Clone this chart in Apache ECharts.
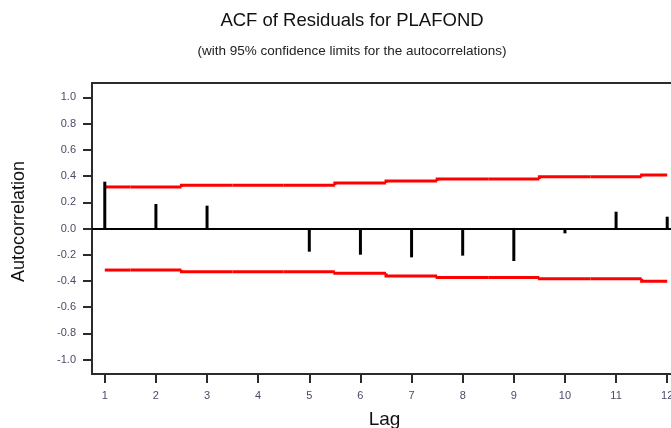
<!DOCTYPE html>
<html>
<head>
<meta charset="utf-8">
<script src="https://cdn.jsdelivr.net/npm/echarts@6/dist/echarts.min.js"></script>
<style>
html, body { margin: 0; padding: 0; background: #fff; }
#acf_chart { width: 671px; height: 428px; }
</style>
</head>
<body>
<div id="acf_chart"></div>
<script>
// lags and autocorrelations
var lags = [1, 2, 3, 4, 5, 6, 7, 8, 9, 10, 11, 12];
var acf = [0.357, 0.187, 0.174, 0.0, -0.177, -0.20, -0.22, -0.207, -0.248, -0.037, 0.128, 0.09];
// 95% limits (stepped)
var upperLimit = [0.317, 0.317, 0.33, 0.33, 0.33, 0.347, 0.363, 0.378, 0.378, 0.395, 0.395, 0.408];
var lowerLimit = [-0.317, -0.317, -0.33, -0.33, -0.33, -0.342, -0.363, -0.373, -0.373, -0.383, -0.383, -0.403];
// tick labels
var yTicks = [-1.0, -0.8, -0.6, -0.4, -0.2, 0.0, 0.2, 0.4, 0.6, 0.8, 1.0];
var xTicks = [1, 2, 3, 4, 5, 6, 7, 8, 9, 10, 11, 12];

function pairs(xs, ys) {
	var out = [];
	for (var i = 0; i < xs.length; i++) {
		out.push([xs[i], ys[i]]);
	}
	return out;
}

// one step per lag: [from x, to x, value, previous value]
// (line series drops the small vertical jumps, so the steps are drawn by hand)
function steps(xs, ys) {
	var out = [];
	for (var i = 0; i < xs.length; i++) {
		var x0 = i == 0 ? xs[i] : (xs[i - 1] + xs[i]) / 2;
		var x1 = i == xs.length - 1 ? xs[i] : (xs[i] + xs[i + 1]) / 2;
		out.push([x0, x1, ys[i], i == 0 ? ys[i] : ys[i - 1]]);
	}
	return out;
}

function renderStep(params, api) {
	var p0 = api.coord([api.value(0), api.value(3)]);
	var p1 = api.coord([api.value(0), api.value(2)]);
	var p2 = api.coord([api.value(1), api.value(2)]);
	return {
		type: 'polyline',
		shape: { points: [p0, p1, p2] },
		style: { stroke: '#ff0000', lineWidth: 3, fill: null }
	};
}

var acfChart = echarts.init(document.getElementById('acf_chart'));
var axisColor = '#2b2b2b';
var labelColor = '#4a4a66';

acfChart.setOption({
	animation: false,
	title: [{
		text: 'ACF of Residuals for PLAFOND',
		left: 347, top: 6, textAlign: 'center',
		textStyle: { fontFamily: 'Liberation Sans', fontSize: 18.5, fontWeight: 'normal', color: '#111' }
	}, {
		text: '(with 95% confidence limits for the autocorrelations)',
		left: 347, top: 39, textAlign: 'center',
		textStyle: { fontFamily: 'Liberation Sans', fontSize: 13.5, fontWeight: 'normal', color: '#222' }
	}],
	grid: {
		left: 92, top: 83, height: 291, width: 611,
		outerBoundsMode: 'none', containLabel: false,
		show: true, borderColor: axisColor, borderWidth: 2, backgroundColor: '#fff'
	},
	xAxis: {
		type: 'value', min: 0.75, max: 12.7,
		name: 'Lag', nameLocation: 'middle', nameGap: 36,
		nameTextStyle: { fontFamily: 'Liberation Sans', fontSize: 19, color: '#111', padding: [0, 26, 0, 0] },
		splitLine: { show: false },
		axisLine: { onZero: false, lineStyle: { color: axisColor, width: 2 } },
		axisTick: { length: 9, lineStyle: { color: axisColor, width: 2 }, customValues: xTicks },
		axisLabel: { customValues: xTicks, margin: 16, fontFamily: 'Liberation Sans', fontSize: 11, color: labelColor }
	},
	yAxis: {
		type: 'value', min: -1.11, max: 1.11,
		name: 'Autocorrelation', nameLocation: 'middle', nameGap: 64, nameRotate: 90,
		nameTextStyle: { fontFamily: 'Liberation Sans', fontSize: 18, color: '#111', padding: [0, 0, 0, 14] },
		splitLine: { show: false },
		axisLine: { onZero: false, lineStyle: { color: axisColor, width: 2 } },
		axisTick: { length: 9, lineStyle: { color: axisColor, width: 2 }, customValues: yTicks },
		axisLabel: {
			customValues: yTicks, margin: 16, fontFamily: 'Liberation Sans', fontSize: 11, color: labelColor,
			formatter: function (v) { return v.toFixed(1); }
		}
	},
	series: [{
		name: 'ACF',
		type: 'bar',
		barWidth: 3,
		itemStyle: { color: '#000' },
		data: pairs(lags, acf),
		markLine: {
			silent: true, symbol: 'none', label: { show: false },
			lineStyle: { color: '#000', width: 2, type: 'solid' },
			data: [{ yAxis: 0 }]
		}
	}, {
		name: 'Upper',
		type: 'custom',
		renderItem: renderStep,
		encode: { x: [0, 1], y: [2, 3] },
		data: steps(lags, upperLimit)
	}, {
		name: 'Lower',
		type: 'custom',
		renderItem: renderStep,
		encode: { x: [0, 1], y: [2, 3] },
		data: steps(lags, lowerLimit)
	}]
});
</script>
</body>
</html>
